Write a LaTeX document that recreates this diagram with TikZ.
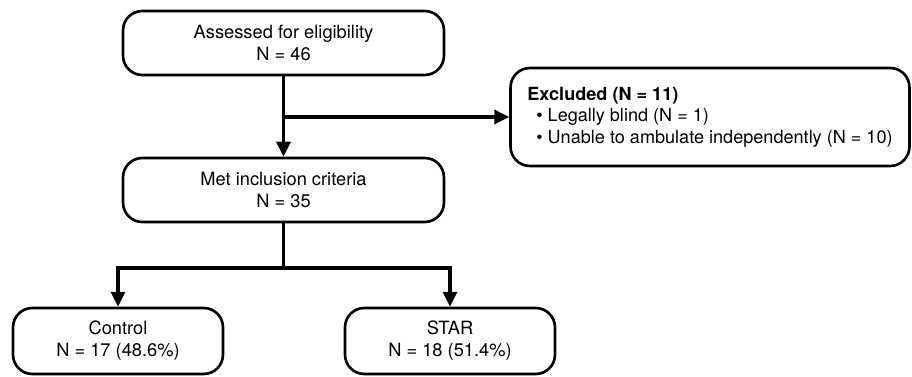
\documentclass[tikz,border=0pt]{standalone}
\usepackage{fontspec}
\setmainfont{TeX Gyre Heros}
\usetikzlibrary{arrows.meta}
\begin{document}
\begin{tikzpicture}[x=0.02cm,y=-0.02cm,
  box/.style={draw=black, line width=1.5pt, rounded corners=11pt, align=center,
    font=\fontsize{10.4}{12.5}\selectfont, inner sep=0pt},
  conn/.style={line width=1.8pt},
  arr/.style={conn, -{Triangle[length=8.5pt,width=8pt]}}]
\useasboundingbox (0,0) rectangle (912,377);
\node[box, minimum width=6.42cm, minimum height=1.28cm] (top) at (283.5,43) {Assessed for eligibility\\N = 46};
\node[box, minimum width=6.42cm, minimum height=1.28cm] (met) at (283.5,190) {Met inclusion criteria\\N = 35};
\node[box, minimum width=7.98cm, minimum height=1.96cm, align=left, font=\fontsize{10.3}{12.2}\selectfont] (excl) at (710,117)
  {\textbf{Excluded (N = 11)}\\\hspace*{0.18cm}\textbullet\ Legally blind (N = 1)\\\hspace*{0.18cm}\textbullet\ Unable to ambulate independently (N = 10)};
\node[box, minimum width=4.2cm, minimum height=1.32cm] (ctrl) at (118,341) {Control\\N = 17 (48.6\%)};
\node[box, minimum width=4.2cm, minimum height=1.32cm] (star) at (450,341) {STAR\\N = 18 (51.4\%)};
\draw[arr] (top.south) -- (met.north);
\draw[arr] (top.south |- excl.west) -- (excl.west);
\coordinate (j) at (283.5,268);
\draw[conn] (met.south) -- (j);
\draw[arr] ([xshift=-0.9pt]j) -| (ctrl.north);
\draw[arr] ([xshift=0.9pt]j) -| (star.north);
\draw[conn] ([xshift=-0.9pt]j) -- ([xshift=0.9pt]j);
\end{tikzpicture}
\end{document}
